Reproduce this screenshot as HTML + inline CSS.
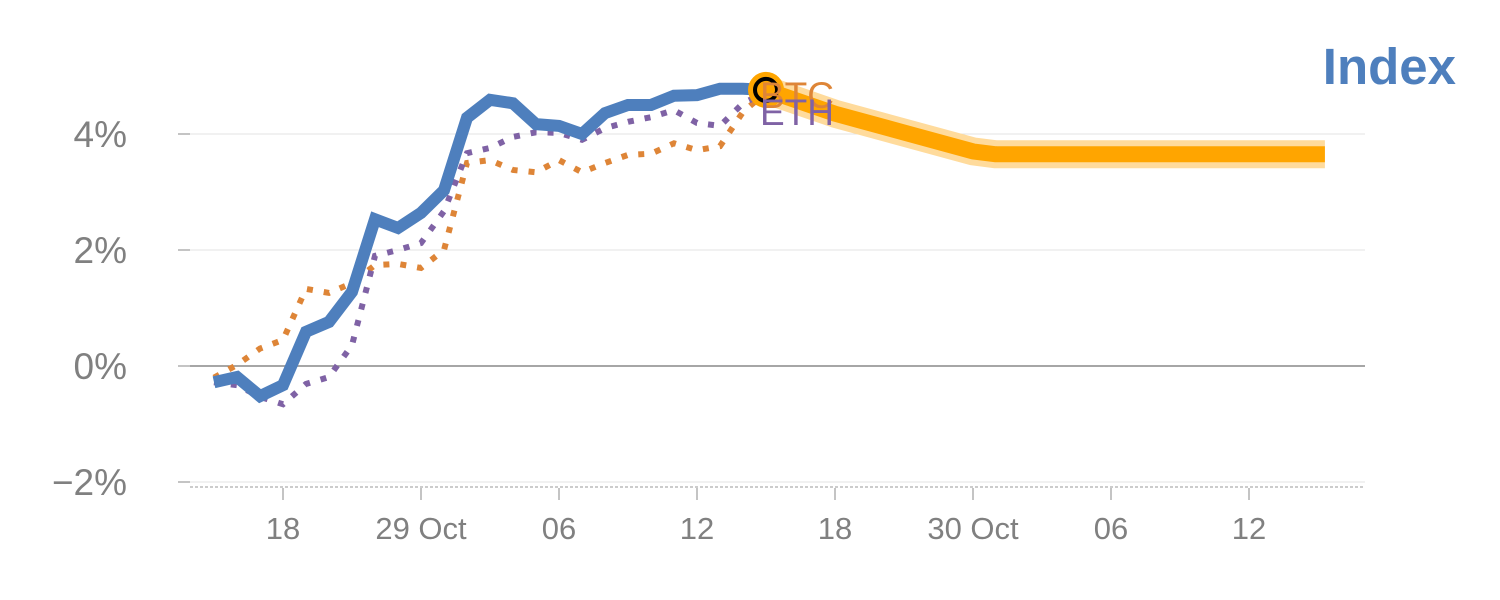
<!DOCTYPE html>
<html><head><meta charset="utf-8"><style>
body{margin:0;background:#fff;}
svg{display:block;font-family:"Liberation Sans",Arial,sans-serif;}
</style></head><body>
<svg id="chart" width="1500" height="600">
<text x="1456" y="84" text-anchor="end" font-size="51" font-weight="bold" fill="#4e7fbd">Index</text>
<g id="grid"></g><g id="axes"></g><g id="series"></g>
</svg>
<script>
const yTicks = [-2, 0, 2, 4];
const yTickLabels = ['\u22122%', '0%', '2%', '4%'];
const xTickIdx = [3, 9, 15, 21, 27, 33, 39, 45];
const xTickLabels = ['18', '29 Oct', '06', '12', '18', '30 Oct', '06', '12'];
const indexValues = [-0.28,-0.19,-0.52,-0.33,0.59,0.76,1.28,2.53,2.38,2.64,3.03,4.28,4.59,4.53,4.17,4.14,4.0,4.36,4.5,4.5,4.66,4.67,4.78,4.78,4.76];
const btcValues = [-0.2,0.02,0.3,0.45,1.33,1.26,1.43,1.74,1.76,1.69,2.0,3.5,3.55,3.38,3.34,3.55,3.34,3.5,3.64,3.66,3.84,3.72,3.79,4.38,4.72];
const ethValues = [-0.28,-0.33,-0.53,-0.66,-0.31,-0.19,0.36,1.9,2.0,2.12,2.67,3.67,3.76,3.95,4.03,4.02,3.9,4.1,4.21,4.29,4.41,4.19,4.14,4.53,4.72];
const forecastIdx = [24, 27, 33, 34, 48.3];
const forecastValues = [4.76, 4.35, 3.7, 3.65, 3.65];

const X = i => 214 + 23 * i;
const Y = v => 366 - 58 * v;
const NS = 'http://www.w3.org/2000/svg';
function mk(tag, attrs, parent) {
  const e = document.createElementNS(NS, tag);
  for (const k in attrs) e.setAttribute(k, attrs[k]);
  document.getElementById(parent).appendChild(e);
  return e;
}
yTicks.forEach((t, k) => {
  const g = mk('line', {x1: 190, x2: 1365, y1: Y(t), y2: Y(t), stroke: t === 0 ? '#888' : '#e3e3e3', 'stroke-width': t === 0 ? 1.5 : 1}, 'grid');
  
  
  const tk = mk('line', {x1: 178, x2: 190, y1: Y(t), y2: Y(t), stroke: '#888', 'stroke-width': 1}, 'axes');
  
  
  const l = mk('text', {x: 127, y: Y(t) + 13, 'text-anchor': 'end', 'font-size': 37, fill: '#808080'}, 'axes');
  l.textContent = yTickLabels[k];
  
  
});
const xa = mk('line', {x1: 190, x2: 1365, y1: 487, y2: 487, stroke: '#ccc', 'stroke-width': 2, 'stroke-dasharray': '3,2'}, 'axes');


xTickIdx.forEach((i, k) => {
  const tk = mk('line', {x1: X(i), x2: X(i), y1: 488, y2: 500, stroke: '#888', 'stroke-width': 1}, 'axes');
  
  
  const l = mk('text', {x: X(i), y: 539, 'text-anchor': 'middle', 'font-size': 31, fill: '#808080'}, 'axes');
  l.textContent = xTickLabels[k];
  
  
});
const pts = (idx, vals) => vals.map((v, k) => X(idx ? idx[k] : k) + ',' + Y(v)).join(' ');
const f1 = mk('polyline', {points: pts(forecastIdx, forecastValues), fill: 'none', stroke: '#ffdb9c', 'stroke-width': 28, 'stroke-linejoin': 'round'}, 'series');


const f2 = mk('polyline', {points: pts(forecastIdx, forecastValues), fill: 'none', stroke: '#ffa500', 'stroke-width': 16, 'stroke-linejoin': 'round'}, 'series');


const b = mk('polyline', {points: pts(null, btcValues), fill: 'none', stroke: '#de8537', 'stroke-width': 6, 'stroke-dasharray': '6,11'}, 'series');


const e = mk('polyline', {points: pts(null, ethValues), fill: 'none', stroke: '#7f62a5', 'stroke-width': 6, 'stroke-dasharray': '6,11'}, 'series');


const ix = mk('polyline', {points: pts(null, indexValues), fill: 'none', stroke: '#4e7fbd', 'stroke-width': 12, 'stroke-linejoin': 'miter'}, 'series');


const last = indexValues.length - 1;
const m1 = mk('circle', {cx: X(last), cy: Y(indexValues[last]), r: 18, fill: '#ffa500'}, 'series');


const m2 = mk('circle', {cx: X(last), cy: Y(indexValues[last]), r: 11, fill: '#ffa500', stroke: '#000', 'stroke-width': 4}, 'series');


const lb = mk('text', {x: X(last) - 6, y: 108, 'font-size': 37, fill: '#de8537'}, 'series');
lb.textContent = 'BTC';


const le = mk('text', {x: X(last) - 6, y: 125, 'font-size': 37, fill: '#7f62a5'}, 'series');
le.textContent = 'ETH';


</script>
</body></html>
